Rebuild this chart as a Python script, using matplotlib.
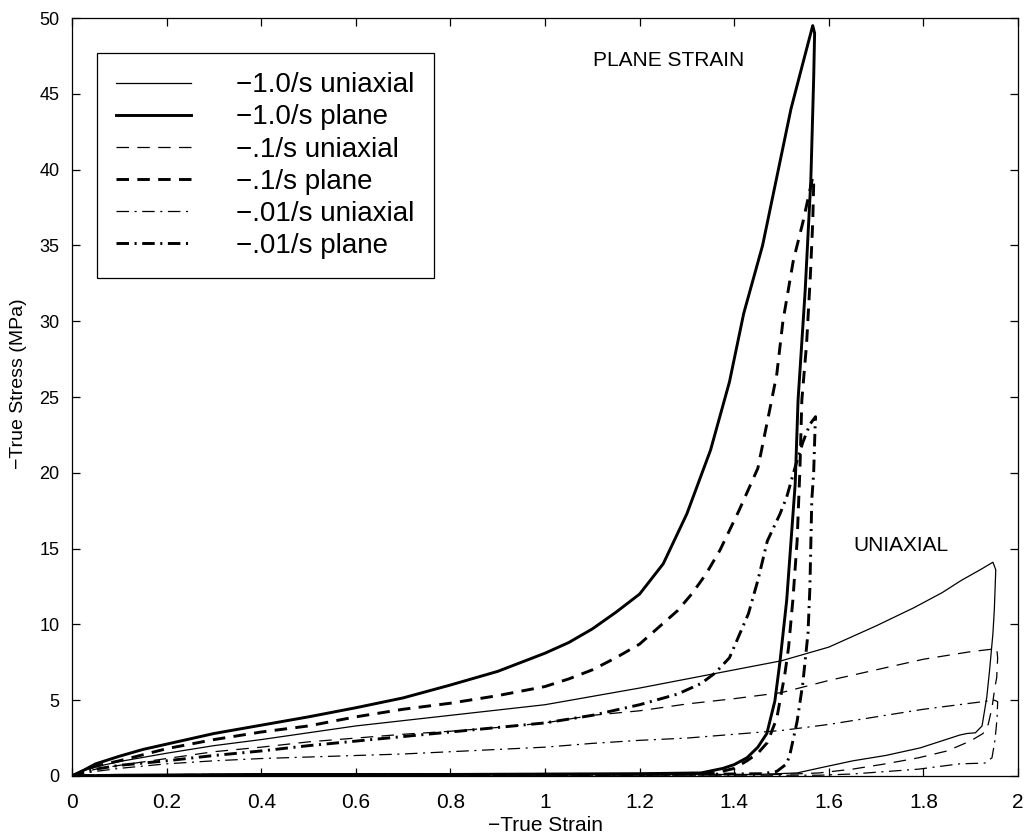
import matplotlib
matplotlib.use('Agg')
import matplotlib.pyplot as plt

plt.rcParams['font.family'] = ['Liberation Sans', 'DejaVu Sans']
plt.rcParams['lines.scale_dashes'] = False

# -1.0/s plane strain (thick solid): loading, unloading, zero-stress return
p10_x = [0, 0.02, 0.05, 0.1, 0.15, 0.2, 0.25, 0.3, 0.4, 0.5, 0.6, 0.7, 0.8, 0.9, 1.0,
         1.05, 1.1, 1.15, 1.2, 1.25, 1.3, 1.35, 1.39, 1.42, 1.46, 1.48, 1.52, 1.545, 1.566,
         1.57, 1.568, 1.562, 1.55, 1.535, 1.529, 1.511, 1.497, 1.486, 1.469, 1.45, 1.427,
         1.40, 1.376, 1.33, 1.2, 0.8, 0.4, 0.1, 0.0]
p10_y = [0, 0.3, 0.8, 1.3, 1.75, 2.1, 2.45, 2.8, 3.35, 3.9, 4.5, 5.15, 6.0, 6.9, 8.1,
         8.8, 9.7, 10.8, 12.0, 14.0, 17.3, 21.5, 26.0, 30.5, 35.0, 38.0, 44.0, 47.0, 49.5,
         49.0, 46.0, 39.3, 32.0, 24.8, 19.3, 11.6, 7.6, 4.95, 2.8, 1.9, 1.2,
         0.75, 0.5, 0.2, 0.15, 0.1, 0.1, 0.05, 0.0]

# -.1/s plane strain (thick dashed)
p01_x = [0, 0.02, 0.05, 0.1, 0.2, 0.3, 0.4, 0.5, 0.6, 0.7, 0.8, 0.9, 1.0, 1.05, 1.1,
         1.15, 1.2, 1.24, 1.28, 1.31, 1.34, 1.37, 1.41, 1.45, 1.476, 1.49, 1.503, 1.525,
         1.545, 1.566,
         1.568, 1.566, 1.561, 1.553, 1.543, 1.539, 1.533, 1.524, 1.515, 1.507, 1.49, 1.47,
         1.45, 1.427, 1.40, 1.36, 1.2, 0.6, 0.0]
p01_y = [0, 0.3, 0.65, 1.0, 1.8, 2.4, 2.9, 3.3, 3.9, 4.4, 4.8, 5.3, 5.9, 6.4, 7.0,
         7.8, 8.7, 9.8, 10.9, 12.0, 13.3, 14.9, 17.5, 20.3, 24.3, 26.5, 30.0, 34.0,
         36.5, 39.5,
         39.0, 36.5, 33.0, 28.5, 24.8, 20.3, 15.5, 11.6, 8.5, 6.7, 3.8, 2.2,
         1.5, 1.0, 0.5, 0.2, 0.1, 0.1, 0.0]

# -.01/s plane strain (thick dash-dot)
p001_x = [0, 0.02, 0.05, 0.1, 0.2, 0.3, 0.4, 0.5, 0.6, 0.7, 0.8, 0.9, 1.0, 1.1, 1.2,
          1.28, 1.33, 1.36, 1.39, 1.43, 1.45, 1.47, 1.497, 1.511, 1.53, 1.545, 1.56, 1.572,
          1.571, 1.568, 1.564, 1.56, 1.556, 1.545, 1.533, 1.518, 1.511, 1.49, 1.46, 1.3,
          0.6, 0.0]
p001_y = [0, 0.2, 0.45, 0.7, 1.0, 1.35, 1.65, 2.0, 2.3, 2.6, 2.9, 3.2, 3.5, 4.0, 4.7,
          5.4, 6.1, 6.8, 7.8, 10.7, 12.9, 15.5, 17.3, 18.4, 20.5, 22.0, 23.2, 23.7,
          23.0, 20.0, 18.2, 12.4, 9.4, 6.1, 3.6, 1.45, 0.8, 0.3, 0.15, 0.1,
          0.1, 0.0]

# -1.0/s uniaxial (thin solid)
u10_x = [0, 0.02, 0.05, 0.1, 0.2, 0.3, 0.4, 0.5, 0.6, 0.7, 0.8, 0.9, 1.0, 1.1, 1.2,
         1.3, 1.4, 1.5, 1.6, 1.7, 1.78, 1.84, 1.88, 1.92, 1.947,
         1.953, 1.950, 1.947, 1.940, 1.934, 1.924, 1.91, 1.892, 1.877, 1.793, 1.72,
         1.651, 1.581, 1.533, 1.45, 1.0, 0.5, 0.0]
u10_y = [0, 0.3, 0.6, 0.95, 1.5, 2.0, 2.4, 2.85, 3.3, 3.65, 4.0, 4.35, 4.7, 5.25, 5.8,
         6.4, 7.0, 7.6, 8.5, 9.9, 11.1, 12.1, 12.9, 13.6, 14.1,
         13.6, 11.0, 9.4, 7.0, 5.2, 3.3, 2.85, 2.8, 2.7, 1.85, 1.35,
         1.0, 0.53, 0.2, 0.1, 0.1, 0.05, 0.0]

# -.1/s uniaxial (thin dashed)
u01_x = [0, 0.02, 0.05, 0.1, 0.2, 0.3, 0.4, 0.5, 0.6, 0.7, 0.8, 0.9, 1.0, 1.1, 1.2,
         1.3, 1.4, 1.5, 1.6, 1.7, 1.8, 1.9, 1.955,
         1.957, 1.955, 1.951, 1.945, 1.937, 1.926, 1.899, 1.85, 1.79, 1.72, 1.65, 1.58,
         1.5, 1.0, 0.0]
u01_y = [0, 0.2, 0.45, 0.7, 1.15, 1.6, 1.9, 2.25, 2.5, 2.75, 2.95, 3.2, 3.5, 4.0, 4.3,
         4.75, 5.1, 5.5, 6.3, 7.0, 7.7, 8.2, 8.4,
         7.8, 6.5, 5.8, 4.5, 3.4, 2.8, 2.3, 1.65, 1.2, 0.8, 0.45, 0.2,
         0.1, 0.1, 0.0]

# -.01/s uniaxial (thin dash-dot)
u001_x = [0, 0.02, 0.05, 0.1, 0.2, 0.3, 0.4, 0.5, 0.6, 0.7, 0.8, 0.9, 1.0, 1.1, 1.2,
          1.3, 1.4, 1.5, 1.6, 1.7, 1.8, 1.9, 1.95,
          1.957, 1.956, 1.954, 1.951, 1.945, 1.93, 1.877, 1.79, 1.65, 1.58, 1.0, 0.0]
u001_y = [0, 0.15, 0.3, 0.5, 0.8, 1.0, 1.15, 1.25, 1.35, 1.45, 1.6, 1.75, 1.9, 2.15, 2.35,
          2.5, 2.75, 3.0, 3.4, 3.9, 4.4, 4.8, 5.0,
          4.9, 4.0, 3.2, 2.3, 1.2, 0.85, 0.8, 0.45, 0.13, 0.05, 0.05, 0.0]

labels = ['\u22121.0/s uniaxial', '\u22121.0/s plane', '\u2212.1/s uniaxial',
          '\u2212.1/s plane', '\u2212.01/s uniaxial', '\u2212.01/s plane']
x_ticks = [0, 0.2, 0.4, 0.6, 0.8, 1, 1.2, 1.4, 1.6, 1.8, 2]
x_ticklabels = ['0', '0.2', '0.4', '0.6', '0.8', '1', '1.2', '1.4', '1.6', '1.8', '2']
y_ticks = [0, 5, 10, 15, 20, 25, 30, 35, 40, 45, 50]

thin, thick = 0.9, 2.1
dash = (9, 6)
dashdot = (9, 4, 1.5, 4)

fig = plt.figure(figsize=(10.26, 8.35), dpi=100)
ax = fig.add_axes([0.0702, 0.0707, 0.922, 0.9077])

ax.plot(u10_x, u10_y, color='k', lw=thin, label=labels[0])
ax.plot(p10_x, p10_y, color='k', lw=thick, label=labels[1])
ax.plot(u01_x, u01_y, color='k', lw=thin, dashes=dash, label=labels[2])
ax.plot(p01_x, p01_y, color='k', lw=thick, dashes=dash, label=labels[3])
ax.plot(u001_x, u001_y, color='k', lw=thin, dashes=dashdot, label=labels[4])
ax.plot(p001_x, p001_y, color='k', lw=thick, dashes=dashdot, label=labels[5])

ax.set_xlim(0, 2)
ax.set_ylim(0, 50)
ax.set_xticks(x_ticks)
ax.set_xticklabels(x_ticklabels)
ax.set_yticks(y_ticks)
ax.tick_params(direction='in', top=True, right=True, length=6, width=0.9)
ax.tick_params(axis='x', labelsize=15, pad=12)
ax.tick_params(axis='y', labelsize=13, pad=9)
for s in ax.spines.values():
    s.set_linewidth(0.9)

ax.set_xlabel('\u2212True Strain', fontsize=15, labelpad=3)
ax.set_ylabel('\u2212True Stress (MPa)', fontsize=14)
ax.yaxis.set_label_coords(-0.048, 0.517)

ax.text(1.262, 47.2, 'PLANE STRAIN', fontsize=15, ha='center', va='center')
ax.text(1.753, 15.2, 'UNIAXIAL', fontsize=15, ha='center', va='center')

leg = ax.legend(loc='upper left', bbox_to_anchor=(0.0264, 0.954), borderaxespad=0,
                fontsize=20, handlelength=2.7, handletextpad=1.6, labelspacing=0.22,
                borderpad=0.7, fancybox=False, framealpha=1, edgecolor='k')
leg.get_frame().set_linewidth(0.9)

fig.savefig('out.png', dpi=100)
